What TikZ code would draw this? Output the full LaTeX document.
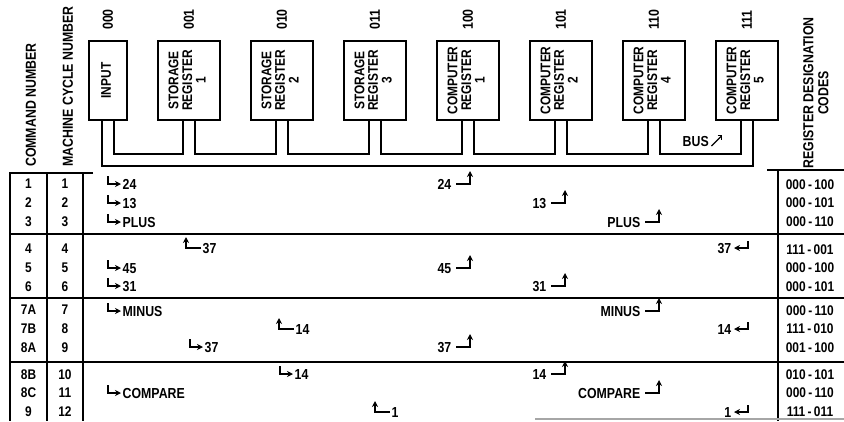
\documentclass[tikz,border=0pt]{standalone}
\usepackage{fontspec}
\setmainfont{Liberation Sans}[FakeStretch=0.85]
\usepackage{graphicx}
\usepackage{tikz}
\usetikzlibrary{positioning, arrows.meta}

\newcommand{\regname}[1]{\rotatebox{90}{\begin{tabular}{@{}c@{}}#1\end{tabular}}}

\begin{document}
\begin{tikzpicture}[
  x=1pt, y=-1pt,
  font=\fontsize{14.5}{16}\selectfont\bfseries,
  reg/.style={draw, line width=1.7pt, minimum width=62pt, minimum height=79pt,
    inner sep=0pt, outer sep=0pt, font=\fontsize{14}{13}\selectfont\bfseries},
  bits/.style={inner sep=0pt},
  hdr/.style={rotate=90, inner sep=0pt, font=\fontsize{14.5}{15}\selectfont\bfseries},
  num/.style={align=center, inner sep=0pt, font=\fontsize{14}{18.8}\selectfont\bfseries},
  val/.style={inner sep=1.5pt, text height=10pt, text depth=0pt},
  wire/.style={line width=1.7pt},
  rule/.style={line width=1.5pt},
  flow/.style={-{Stealth[length=6pt, width=6pt]}, line width=1.3pt},
]
  \fill[white] (0,0) rectangle (844,421);
  \useasboundingbox (0,0) rectangle (844,421);

  % Registers
  \node[reg, minimum width=38pt] (inp) at (108,80.5) {\regname{INPUT}};
  \node[reg, right=31pt of inp] (sr1) {\regname{STORAGE\\REGISTER\\1}};
  \node[reg, right=31pt of sr1] (sr2) {\regname{STORAGE\\REGISTER\\2}};
  \node[reg, right=31pt of sr2] (sr3) {\regname{STORAGE\\REGISTER\\3}};
  \node[reg, right=31pt of sr3] (cr1) {\regname{COMPUTER\\REGISTER\\1}};
  \node[reg, right=31pt of cr1] (cr2) {\regname{COMPUTER\\REGISTER\\2}};
  \node[reg, right=31pt of cr2] (cr4) {\regname{COMPUTER\\REGISTER\\4}};
  \node[reg, right=31pt of cr4] (cr5) {\regname{COMPUTER\\REGISTER\\5}};

  % Designation codes above the registers
  \node[bits, above=11pt of inp] (kinp) {\rotatebox{90}{000}};
  \node[bits, above=11pt of sr1] (ksr1) {\rotatebox{90}{001}};
  \node[bits, above=11pt of sr2] (ksr2) {\rotatebox{90}{010}};
  \node[bits, above=11pt of sr3] (ksr3) {\rotatebox{90}{011}};
  \node[bits, above=11pt of cr1] (kcr1) {\rotatebox{90}{100}};
  \node[bits, above=11pt of cr2] (kcr2) {\rotatebox{90}{101}};
  \node[bits, above=11pt of cr4] (kcr4) {\rotatebox{90}{110}};
  \node[bits, above=11pt of cr5] (kcr5) {\rotatebox{90}{111}};

  % Bus wiring
  \draw[wire] ([xshift=6pt]inp.south) -- ++(0,34) -| ([xshift=-6pt]sr1.south);
  \draw[wire] ([xshift=6pt]sr1.south) -- ++(0,34) -| ([xshift=-6pt]sr2.south);
  \draw[wire] ([xshift=6pt]sr2.south) -- ++(0,34) -| ([xshift=-6pt]sr3.south);
  \draw[wire] ([xshift=6pt]sr3.south) -- ++(0,34) -| ([xshift=-6pt]cr1.south);
  \draw[wire] ([xshift=6pt]cr1.south) -- ++(0,34) -| ([xshift=-6pt]cr2.south);
  \draw[wire] ([xshift=6pt]cr2.south) -- ++(0,34) -| ([xshift=-6pt]cr4.south);
  \draw[wire] ([xshift=6pt]cr4.south) -- ++(0,34) -| ([xshift=-6pt]cr5.south);
  \draw[wire] ([xshift=-6pt]inp.south) -- ++(0,46) -| ([xshift=6pt]cr5.south);
  \node[val, anchor=west] (bus) at (681,141) {BUS};
  \draw[-{Straight Barb[length=3pt, width=6pt]}, line width=1.2pt]
    ([shift={(1pt,-5pt)}]bus.east) -- ++(11,-11);

  % Column headings
  \node[hdr, anchor=west] (hcmd) at (31,167) {COMMAND NUMBER};
  \node[hdr, anchor=west] (hcyc) at (68,167) {MACHINE CYCLE NUMBER};
  \node[hdr, align=center] (hreg) at (816,93) {REGISTER DESIGNATION\\CODES};

  % Table rules
  \draw[rule] (93,173) -| (10,421);
  \draw[rule] (47,173) -- (47,421);
  \draw[rule] (83,173) -- (83,421);
  \draw[rule] (767,170) -- (844,170);
  \draw[rule] (778,170) -- (778,421);
  \draw[rule] (10,234) -- (844,234);
  \draw[rule] (10,298) -- (844,298);
  \draw[rule] (10,362) -- (844,362);
  \draw[rule, black!35] (535,419) -- (844,419);

  % Command and cycle numbers, register codes
  \node[num] (cmd1) at (28.5,203) {1\\2\\3};
  \node[num] (cmd2) at (28.5,268) {4\\5\\6};
  \node[num] (cmd3) at (28.5,329) {7A\\7B\\8A};
  \node[num] (cmd4) at (28.5,393) {8B\\8C\\9};
  \node[num] (cyc1) at (65,203) {1\\2\\3};
  \node[num] (cyc2) at (65,268) {4\\5\\6};
  \node[num] (cyc3) at (65,329) {7\\8\\9};
  \node[num] (cyc4) at (65,393) {10\\11\\12};
  \node[num] (rc1) at (810,203) {000\,-\,100\\000\,-\,101\\000\,-\,110};
  \node[num] (rc2) at (810,268) {111\,-\,001\\000\,-\,100\\000\,-\,101};
  \node[num] (rc3) at (810,329) {000\,-\,110\\111\,-\,010\\001\,-\,100};
  \node[num] (rc4) at (810,393) {010\,-\,101\\000\,-\,110\\111\,-\,011};

  % Words leaving a register
  \node[val, anchor=west] (o1) at (121,184) {24};
  \node[val, anchor=west] (o2) at (121,203) {13};
  \node[val, anchor=west] (o3) at (121,222) {PLUS};
  \node[val, anchor=west] (o5) at (121,268) {45};
  \node[val, anchor=west] (o6) at (121,286) {31};
  \node[val, anchor=west] (o7) at (121,311) {MINUS};
  \node[val, anchor=west] (o9) at (203,347) {37};
  \node[val, anchor=west] (o10) at (293,374) {14};
  \node[val, anchor=west] (o11) at (121,393) {COMPARE};
  \node[val, anchor=east] (o4) at (733,248) {37};
  \node[val, anchor=east] (o8) at (733,329) {14};
  \node[val, anchor=east] (o12) at (733,412) {1};

  % Words entering a register
  \node[val, anchor=east] (i1) at (453,184) {24};
  \node[val, anchor=east] (i2) at (548,203) {13};
  \node[val, anchor=east] (i3) at (642,222) {PLUS};
  \node[val, anchor=west] (i4) at (201,248) {37};
  \node[val, anchor=east] (i5) at (453,268) {45};
  \node[val, anchor=east] (i6) at (548,286) {31};
  \node[val, anchor=east] (i7) at (642,311) {MINUS};
  \node[val, anchor=west] (i8) at (294,329) {14};
  \node[val, anchor=east] (i9) at (453,347) {37};
  \node[val, anchor=east] (i10) at (548,374) {14};
  \node[val, anchor=east] (i11) at (642,393) {COMPARE};
  \node[val, anchor=west] (i12) at (390,412) {1};

  \draw[flow] ([xshift=-13pt,yshift=8pt]o1.west) |- (o1.west);
  \draw[flow] ([xshift=-13pt,yshift=8pt]o2.west) |- (o2.west);
  \draw[flow] ([xshift=-13pt,yshift=8pt]o3.west) |- (o3.west);
  \draw[flow] ([xshift=-13pt,yshift=8pt]o5.west) |- (o5.west);
  \draw[flow] ([xshift=-13pt,yshift=8pt]o6.west) |- (o6.west);
  \draw[flow] ([xshift=-13pt,yshift=8pt]o7.west) |- (o7.west);
  \draw[flow] ([xshift=-13pt,yshift=8pt]o9.west) |- (o9.west);
  \draw[flow] ([xshift=-13pt,yshift=8pt]o10.west) |- (o10.west);
  \draw[flow] ([xshift=-13pt,yshift=8pt]o11.west) |- (o11.west);
  \draw[flow] ([xshift=15pt,yshift=7pt]o4.east) |- ([xshift=1pt]o4.east);
  \draw[flow] ([xshift=15pt,yshift=7pt]o8.east) |- ([xshift=1pt]o8.east);
  \draw[flow] ([xshift=15pt,yshift=7pt]o12.east) |- ([xshift=1pt]o12.east);

  \draw[flow] ([xshift=3pt]i1.east) -| ++(14,-13);
  \draw[flow] ([xshift=3pt]i2.east) -| ++(14,-13);
  \draw[flow] ([xshift=3pt]i3.east) -| ++(14,-13);
  \draw[flow] ([xshift=3pt]i5.east) -| ++(14,-13);
  \draw[flow] ([xshift=3pt]i6.east) -| ++(14,-13);
  \draw[flow] ([xshift=3pt]i7.east) -| ++(14,-13);
  \draw[flow] ([xshift=3pt]i9.east) -| ++(14,-13);
  \draw[flow] ([xshift=3pt]i10.east) -| ++(14,-13);
  \draw[flow] ([xshift=3pt]i11.east) -| ++(14,-13);
  \draw[flow] (i4.west) -| ++(-15,-11);
  \draw[flow] (i8.west) -| ++(-15,-11);
  \draw[flow] (i12.west) -| ++(-15,-11);
\end{tikzpicture}
\end{document}
